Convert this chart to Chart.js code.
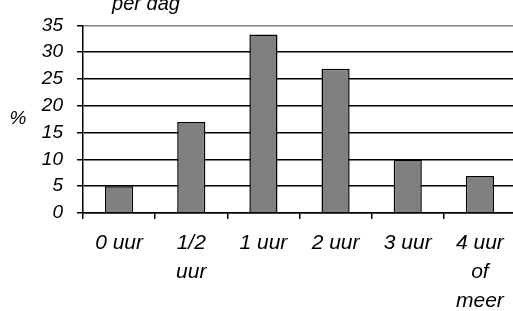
<!DOCTYPE html>
<html>
<head>
<meta charset="utf-8">
<script src="https://cdn.jsdelivr.net/npm/chart.js@4/dist/chart.umd.min.js"></script>
<style>
  html, body { margin: 0; padding: 0; background: #fff; overflow: hidden; }
  #wrap { width: 516px; height: 311px; }
</style>
</head>
<body>
<div id="wrap"><canvas id="myChart" width="516" height="311"></canvas></div>
<script>
const categories = ["0 uur", ["1/2", "uur"], "1 uur", "2 uur", "3 uur", ["4 uur", "of", "meer"]];
const percentages = [5, 17, 33.3, 26.9, 10, 6.9];
const yTicks = [0, 5, 10, 15, 20, 25, 30, 35];

const FONT = "'Liberation Sans', Arial, sans-serif";

// title bit and the "%" label sit outside the axes
const extraText = {
  id: "extraText",
  afterDraw(chart) {
    const ctx = chart.ctx;
    ctx.save();
    ctx.fillStyle = "#000";
    ctx.font = "italic 20px " + FONT;
    ctx.textAlign = "center";
    ctx.textBaseline = "alphabetic";
    ctx.fillText("per dag", 146, 10);
    ctx.font = "italic 19px " + FONT;
    ctx.textBaseline = "middle";
    ctx.fillText("%", 18, 119);
    ctx.restore();
  }
};

new Chart("myChart", {
  type: "bar",
  data: {
    labels: categories,
    datasets: [
      {
        data: percentages,
        backgroundColor: "#808080",
        borderColor: "#000",
        borderWidth: 1.5,
        borderSkipped: "start",
        categoryPercentage: 1,
        barPercentage: 0.39,
      },
    ],
  },
  options: {
    responsive: false,
    animation: false,
    layout: { padding: { top: 23, left: 0, right: 0, bottom: 0 } },
    plugins: {
      legend: { display: false },
      tooltip: { enabled: false },
      title: { display: false },
    },
    scales: {
      x: {
        afterFit: (s) => { s.height = 98; },
        grid: {
          drawOnChartArea: false,
          drawTicks: true,
          tickLength: 6,
          color: "#000",
          lineWidth: 1.5,
          offset: true,
        },
        border: { color: "#000", width: 1.5 },
        ticks: {
          color: "#000",
          padding: 9,
          maxRotation: 0,
          autoSkip: false,
          font: { family: FONT, size: 21, style: "italic", lineHeight: 1.4 },
        },
      },
      y: {
        min: 0,
        max: 35,
        afterFit: (s) => { s.width = 83; },
        afterBuildTicks: (s) => { s.ticks = yTicks.map((v) => ({ value: v })); },
        grid: {
          color: (c) => (c.tick && c.tick.value === 35 ? "#808080" : "#000"),
          tickColor: "#000",
          tickLength: 6,
          lineWidth: 1.5,
        },
        border: { color: "#000", width: 1.5 },
        ticks: {
          color: "#000",
          padding: 14,
          autoSkip: false,
          font: { family: FONT, size: 19, style: "italic" },
        },
      },
    },
  },
  plugins: [extraText],
});
</script>
</body>
</html>
